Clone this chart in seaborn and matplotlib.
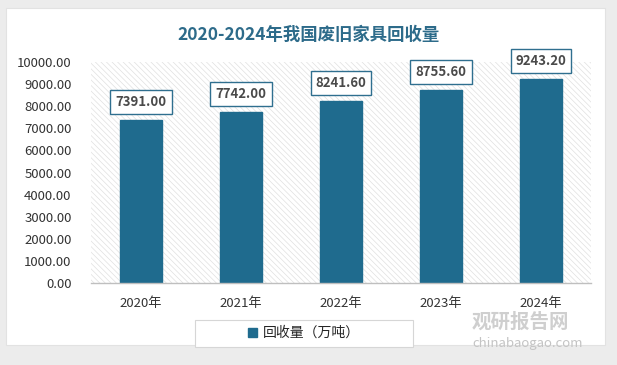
import matplotlib
matplotlib.use("Agg")
import matplotlib.pyplot as plt
import seaborn as sns
import pandas as pd
from matplotlib.patches import Rectangle

years = ["2020年", "2021年", "2022年", "2023年", "2024年"]
values = [7391.00, 7742.00, 8241.60, 8755.60, 9243.20]
series_name = "回收量（万吨）"
title = "2020-2024年我国废旧家具回收量"
yticks = [0, 1000, 2000, 3000, 4000, 5000, 6000, 7000, 8000, 9000, 10000]

sns.set_theme(style="white")
plt.rcParams['font.family'] = ['Noto Sans CJK SC', 'DejaVu Sans']
plt.rcParams['hatch.color'] = '#dedede'
plt.rcParams['hatch.linewidth'] = 0.5

df = pd.DataFrame({"year": years, "value": values, "series": series_name})

fig = plt.figure(figsize=(6.17, 3.65), dpi=100)
fig.patch.set_facecolor('#ececec')
# white card
card = Rectangle((6/617, 1-345/365), 599/617, 337/365, transform=fig.transFigure,
                 facecolor='white', edgecolor='#e2e2e2', lw=0.8, zorder=-5)
fig.patches.append(card)

ax = fig.add_axes([91/617, 1-283/365, 500/617, 221/365])
ax.set_facecolor('none')
# hatched background
ax.add_patch(Rectangle((0, 0), 1, 1, transform=ax.transAxes, facecolor='white',
                       edgecolor='#e0e0e0', hatch='\\\\\\\\\\\\', lw=0, zorder=0))

bar_color = '#1f6b8e'
sns.barplot(data=df, x="year", y="value", hue="series", palette=[bar_color],
            saturation=1, width=0.42, ax=ax, zorder=2, edgecolor=bar_color, legend=True)

ax.set_ylim(0, 10000)
ax.set_xlim(-0.5, 4.5)
ax.set_yticks(yticks)
ax.set_yticklabels([f"{v:.2f}" for v in yticks], fontsize=9.5, color='#333333')
ax.tick_params(axis='x', labelsize=9.5, colors='#333333', length=0, pad=10)
ax.tick_params(axis='y', length=0, pad=14)
ax.set_xlabel("")
ax.set_ylabel("")
for s in ['top', 'right', 'left']:
    ax.spines[s].set_visible(False)
ax.spines['bottom'].set_color('#bfbfbf')
ax.spines['bottom'].set_linewidth(1.0)

for i, v in enumerate(values):
    ax.annotate(f"{v:.2f}", xy=(i, v), xytext=(0, 7.5), textcoords='offset points',
                ha='center', va='bottom', fontsize=9.5, color='#4a4a4a', fontweight='bold',
                bbox=dict(boxstyle='square,pad=0.38', facecolor='white',
                          edgecolor='#2f6f8f', lw=1.0), zorder=5)

# legend with a wide frame like the reference
leg = ax.legend(loc='center', bbox_to_anchor=(304/617, 1-333/365), bbox_transform=fig.transFigure,
                frameon=False, fontsize=10, handlelength=0.6, handleheight=0.6,
                handletextpad=0.4, borderpad=0.3)
frame = Rectangle((195/617, 1-347/365), 218/617, 27/365, transform=fig.transFigure,
                  facecolor='white', edgecolor='#d6d6d6', lw=0.8, zorder=-1)
fig.patches.append(frame)

fig.text(0.5, 1-35/365, title, ha='center', va='center', fontsize=12.5,
         fontweight='bold', color='#2d6b8a')

# watermark
fig.text(0.765, 1-322/365, "观研报告网", ha='left', va='center', fontsize=14,
         fontweight='bold', color='#cfcfcf', zorder=10)
fig.text(0.765, 1-343/365, "chinabaogao.com", ha='left', va='center', fontsize=9.5,
         color='#c4c4c4', zorder=10)

fig.savefig("out.png", dpi=100, facecolor=fig.get_facecolor())
